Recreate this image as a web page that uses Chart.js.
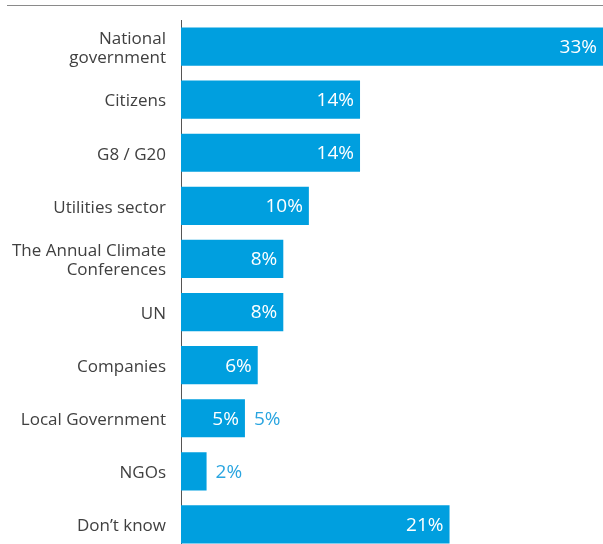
<!DOCTYPE html>
<html>
<head>
<meta charset="utf-8">
<script src="https://cdn.jsdelivr.net/npm/chart.js@4.4.1/dist/chart.umd.min.js"></script>
<style>
  html, body { margin: 0; padding: 0; background: #fff; overflow: hidden; }
  #myChart { display: block; }
</style>
</head>
<body>
<canvas id="myChart" width="603" height="551"></canvas>
<script>
const categorias = [
    ['National', 'government'],
    'Citizens',
    'G8 / G20',
    'Utilities sector',
    ['The Annual Climate', 'Conferences'],
    'UN',
    'Companies',
    'Local Government',
    'NGOs',
    'Don\u2019t know'
]
const valores = [33, 14, 14, 10, 8, 8, 6, 5, 2, 21]
// rótulo azul fora da barra (além do branco dentro)
const rotuloFora = [false, false, false, false, false, false, false, true, true, false]
const rotuloDentro = [true, true, true, true, true, true, true, true, false, true]

const azul = '#009fdf'
const ctx = document.getElementById('myChart')

const linhaTopo = {
    id: 'linhaTopo',
    beforeDraw(chart) {
        const c = chart.ctx
        c.save()
        c.strokeStyle = '#8a8a8a'
        c.lineWidth = 1
        c.beginPath()
        c.moveTo(7, 5.5)
        c.lineTo(chart.width, 5.5)
        c.stroke()
        c.restore()
    }
}

const rotulos = {
    id: 'rotulos',
    afterDatasetsDraw(chart) {
        const c = chart.ctx
        const meta = chart.getDatasetMeta(0)
        c.save()
        c.font = '19px "Open Sans"'
        c.textBaseline = 'middle'
        meta.data.forEach((bar, i) => {
            const texto = valores[i] + '%'
            if (rotuloDentro[i]) {
                c.fillStyle = '#ffffff'
                c.textAlign = 'right'
                c.fillText(texto, bar.x - 6, bar.y + 1)
            }
            if (rotuloFora[i]) {
                c.fillStyle = '#2aa5e0'
                c.textAlign = 'left'
                c.fillText(texto, bar.x + 9, bar.y + 1)
            }
        })
        c.restore()
    }
}

new Chart(ctx, {
    type: 'bar',
    data: {
        labels: categorias,
        datasets: [{
            data: valores,
            backgroundColor: azul,
            borderWidth: 0,
            barPercentage: 0.72,
            categoryPercentage: 1
        }]
    },
    options: {
        indexAxis: 'y',
        responsive: false,
        animation: false,
        layout: { padding: { top: 20, right: 0, bottom: 0, left: 0 } },
        plugins: {
            legend: { display: false },
            tooltip: { enabled: false }
        },
        scales: {
            x: {
                display: false,
                min: 0,
                max: 33
            },
            y: {
                afterFit(scale) {
                    scale.width = 181
                    scale.paddingTop = 0
                    scale.paddingBottom = 0
                },
                grid: { display: false, drawTicks: false },
                border: { display: true, color: '#555555', width: 1 },
                ticks: {
                    color: '#404040',
                    padding: 15,
                    labelOffset: 2,
                    font: { family: '"Open Sans"', size: 17, lineHeight: 1.12 }
                }
            }
        }
    },
    plugins: [linhaTopo, rotulos]
})
</script>
</body>
</html>
